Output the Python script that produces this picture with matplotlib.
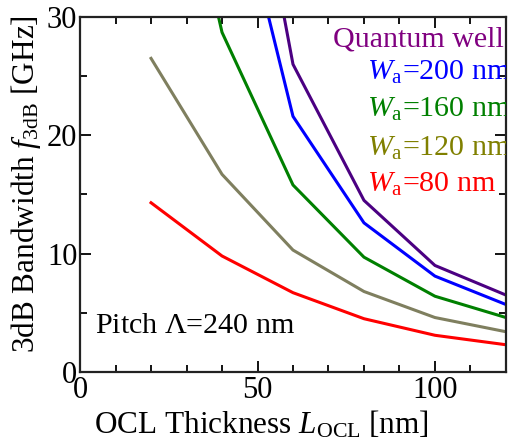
import numpy as np
import matplotlib
matplotlib.use('Agg')
import matplotlib.pyplot as plt
from matplotlib.ticker import MultipleLocator

plt.rcParams['font.family'] = ['Liberation Serif', 'DejaVu Serif']
plt.rcParams['mathtext.fontset'] = 'custom'
plt.rcParams['mathtext.rm'] = 'Liberation Serif'
plt.rcParams['mathtext.it'] = 'Liberation Serif:italic'

# OCL thickness [nm]
ocl = [20, 40, 60, 80, 100, 120]
# 3dB bandwidth [GHz]
qw = [90, 58, 26.0, 14.5, 9.0, 6.5]
wa200 = [70, 46, 21.6, 12.6, 8.1, 5.7]
wa160 = [55, 28.7, 15.8, 9.7, 6.4, 4.6]
wa120 = [26.5, 16.7, 10.3, 6.8, 4.6, 3.4]
wa80 = [14.3, 9.8, 6.7, 4.5, 3.1, 2.3]

series = [
    (qw, '#4b0082', '#800080', 'Quantum well'),
    (wa200, '#0000ff', '#0000ff', r'$W_\mathrm{a}$=200 nm'),
    (wa160, '#008000', '#008000', r'$W_\mathrm{a}$=160 nm'),
    (wa120, '#7f7f5f', '#808000', r'$W_\mathrm{a}$=120 nm'),
    (wa80, '#ff0000', '#ff0000', r'$W_\mathrm{a}$=80 nm'),
]

fig = plt.figure(figsize=(5.1, 4.46), dpi=100)
ax = fig.add_axes([0.157, 0.166, 0.835, 0.796])

for vals, lc, tc, lab in series:
    if lab == 'Quantum well':
        ax.plot(ocl[1:], vals[1:], color=lc, lw=2.2)
    else:
        ax.plot(ocl, vals, color=lc, lw=2.2)

ax.set_xlim(0, 120)
ax.set_ylim(0, 30)

# labels on the right side
fs = 21.6
ax.text(71.3, 27.5, 'Quantum well', color='#800080', fontsize=fs, clip_on=True)
ys = [24.7, 21.55, 18.3, 15.2]
for (vals, lc, tc, lab), yy in zip(series[1:], ys):
    ax.text(80.8, yy, lab, color=tc, fontsize=fs, clip_on=True)

ax.text(4.2, 3.3, r'Pitch $\mathrm{\Lambda}$=240 nm', fontsize=fs)

ax.set_xlabel(r'OCL Thickness $L_\mathrm{OCL}$ [nm]', fontsize=22.5)
ax.set_ylabel(r'3dB Bandwidth $f_\mathrm{3dB}$ [GHz]', fontsize=22.5)
ax.xaxis.set_label_coords(0.427, -0.172)
ax.xaxis.label.set_va('baseline')
ax.yaxis.set_label_coords(-0.087, 0.53)

ax.xaxis.set_major_locator(MultipleLocator(50))
ax.xaxis.set_minor_locator(MultipleLocator(10))
ax.yaxis.set_major_locator(MultipleLocator(10))
ax.yaxis.set_minor_locator(MultipleLocator(5))
ax.tick_params(which='both', direction='in', top=True, right=True, width=1.3, labelsize=22)
ax.tick_params(which='major', length=8, pad=3)
ax.tick_params(which='minor', length=5)
ax.tick_params(axis='y', pad=2)
for s in ax.spines.values():
    s.set_linewidth(1.6)
    s.set_color('#222222')

fig.savefig('out.png', dpi=100)
